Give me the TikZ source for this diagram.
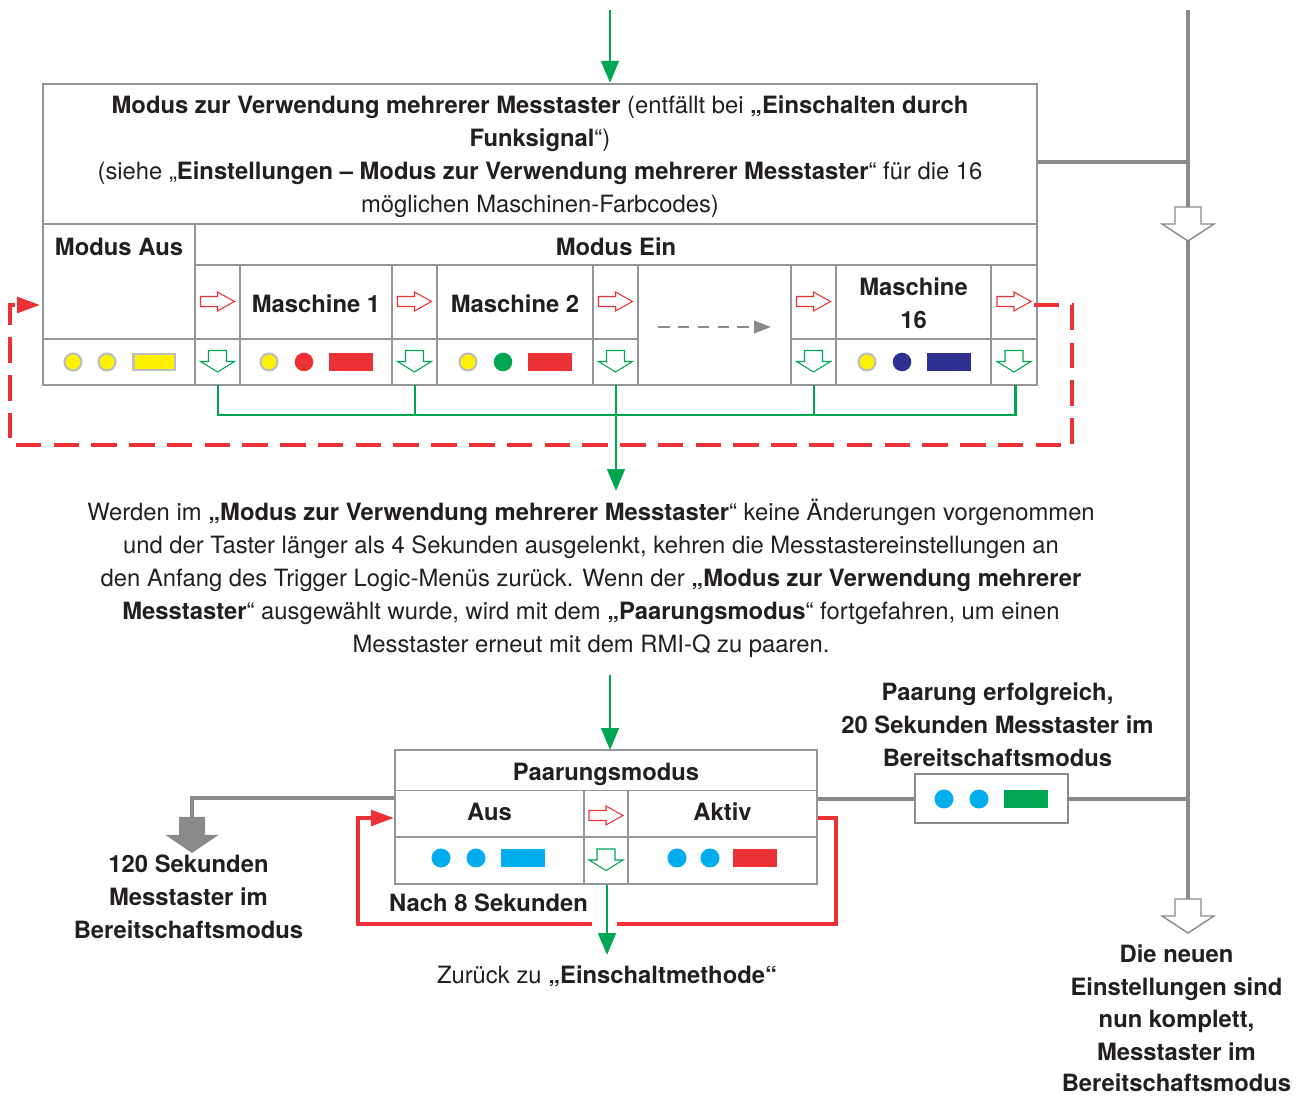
\documentclass[tikz,border=0pt]{standalone}
\usepackage{fontspec}
\setmainfont{TeX Gyre Heros}
\usetikzlibrary{arrows.meta}

\definecolor{tred}{HTML}{ED3237}
\definecolor{tgreen}{HTML}{00A651}
\definecolor{tframe}{HTML}{939598}
\definecolor{ttrunk}{HTML}{8A8A8D}
\definecolor{tyellow}{HTML}{FFF200}
\definecolor{tblue}{HTML}{2E3192}
\definecolor{tcyan}{HTML}{00AEEF}
\definecolor{ttext}{HTML}{231F20}
\definecolor{tring}{HTML}{BCBEC0}

\tikzset{
  redright/.pic={\draw[tred, line width=0.6pt, fill=white]
     (-17,-5) -- (0,-5) -- (0,-9.5) -- (17,0) -- (0,9.5) -- (0,5) -- (-17,5) -- cycle;},
  greendown/.pic={\draw[tgreen, line width=0.6pt, fill=white]
     (-9,-11) -- (9,-11) -- (9,0) -- (17,0) -- (0,10.5) -- (-17,0) -- (-9,0) -- cycle;},
  graydown/.pic={\draw[ttrunk, line width=0.8pt, fill=white]
     (-13,-17) -- (13,-17) -- (13,0) -- (26,0) -- (0,17) -- (-26,0) -- (-13,0) -- cycle;},
}

\begin{document}
\begin{tikzpicture}[x=0.02cm, y=-0.02cm,
  txt/.style={inner sep=0pt, anchor=base, text=ttext, yshift=-1.1pt,
              font=\fontsize{13.55pt}{18.7pt}\selectfont},
  btxt/.style={txt, font=\fontsize{13.55pt}{18.7pt}\selectfont\bfseries},
  boxframe/.style={draw=tframe, line width=1.4pt, inner sep=0pt, fill=none},
  cellline/.style={draw=tframe, line width=0.85pt},
  trunkline/.style={draw=ttrunk, line width=2.3pt},
  grayline/.style={draw=ttrunk, line width=2pt},
  gflow/.style={draw=tgreen, line width=1.7pt},
  gtip/.style={-{Triangle[length=12.5pt,width=10pt]}},
  rflow/.style={draw=tred, line width=1.8pt},
  rtip/.style={-{Triangle[length=13pt,width=9pt]}},
  rdash/.style={draw=tred, line width=2.2pt, dash pattern=on 14.5pt off 7pt},
  ledring/.style={fill=tyellow, draw=tring, line width=1.2pt},
]
\useasboundingbox (0,0) rectangle (1306,1097);

% ---------------- upper table: multi-probe mode ----------------
\node[boxframe, minimum width=19.88cm, minimum height=6.02cm] (topbox) at (540,234.5) {};
\draw[cellline] (43,224) -- (1037,224);
\draw[cellline] (195,265) -- (1037,265);
\draw[cellline] (43,339) -- (638,339);
\draw[cellline] (791,339) -- (1037,339);
\draw[cellline] (195,224) -- (195,385);
\foreach \cx in {240,392,437,593,638,791,836,991}
  \draw[cellline] (\cx,265) -- (\cx,385);

\node[btxt] (t1) at (540,112) {Modus zur Verwendung mehrerer Messtaster \mdseries(entfällt bei \bfseries„Einschalten durch};
\node[btxt] (t2) at (540,145) {Funksignal\mdseries“)};
\node[txt] (t3) at (540,178) {(siehe „\textbf{Einstellungen – Modus zur Verwendung mehrerer Messtaster}“ für die 16};
\node[txt] (t4) at (540,211) {möglichen Maschinen-Farbcodes)};

\node[btxt] (maus) at (119,253.5) {Modus Aus};
\node[btxt] (mein) at (616,253.5) {Modus Ein};
\node[btxt] (m1) at (316,311) {Maschine 1};
\node[btxt] (m2) at (515,311) {Maschine 2};
\node[btxt] (m16a) at (913.5,294) {Maschine};
\node[btxt] (m16b) at (913.5,327) {16};

% step arrows inside the table
\foreach \cx in {217.5,414.5,615.5,813.5,1014} {
  \pic at (\cx,301.5) {redright};
  \pic at (\cx,361.5) {greendown};
}

% further machines
\coordinate (skipA) at (658,327);
\coordinate (skipB) at (771,327);
\draw[draw=ttrunk, line width=1.4pt, dash pattern=on 6.6pt off 4.7pt,
      -{Triangle[length=9.6pt,width=7pt]}] (skipA) -- (skipB);

% LED patterns
\fill[ledring] (73,362) circle (8.5);
\fill[ledring] (107,362) circle (8.5);
\filldraw[fill=tyellow, draw=tring, line width=1.2pt] (133.5,354) rectangle (175,370);

\fill[ledring] (269,362) circle (8.5);
\fill[tred] (304,362) circle (9.3);
\fill[tred] (329,353) rectangle (373,371);

\fill[ledring] (468,362) circle (8.5);
\fill[tgreen] (503,362) circle (9.3);
\fill[tred] (528,353) rectangle (572,371);

\fill[ledring] (867,362) circle (8.5);
\fill[tblue] (902,362) circle (9.3);
\fill[tblue] (927,353) rectangle (971,371);

% green collector below the table
\coordinate (busW) at (218,415);
\coordinate (busE) at (1015,415);
\coordinate (busM) at (616,415);
\coordinate (midtxt) at (616,491);
\foreach \gx in {218,415,616,814,1015}
  \draw[gflow] (\gx,385) -- (\gx,415);
\draw[gflow, line cap=rect] (busW) -- (busE);
\draw[gflow, gtip] (busM) -- (midtxt);

% entry arrow
\coordinate (entry) at (610,10);
\draw[gflow, gtip] (entry) -- (entry |- topbox.north);

% red dashed return loop
\coordinate (rl1) at (1034,305);
\coordinate (rl2) at (1072,305);
\coordinate (rl3) at (1072,445);
\coordinate (rl4) at (10,445);
\coordinate (rl5) at (10,305);
\coordinate (rl6) at (40,305);
\draw[rdash] (rl1) -- (rl2) -- (rl3) -- (rl4) -- (rl5) -- (17,305);
\draw[rflow, rtip] (17,305) -- (rl6);

% ---------------- right trunk ----------------
\coordinate (trunkTop) at (1188,10);
\coordinate (trunkJ1) at (1188,162);
\coordinate (trunkJ2) at (1188,799);
\coordinate (trunkEnd) at (1188,905);
\draw[trunkline] (trunkTop) -- (trunkEnd);
\draw[trunkline] (topbox.east |- trunkJ1) -- (trunkJ1);
\pic at (1188,224) {graydown};
\pic at (1188,916) {graydown};

% ---------------- explanation ----------------
\node[txt] (p1) at (591,519) {Werden im \textbf{„Modus zur Verwendung mehrerer Messtaster}“ keine Änderungen vorgenommen};
\node[txt] (p2) at (591,552) {und der Taster länger als 4 Sekunden ausgelenkt, kehren die Messtastereinstellungen an};
\node[txt] (p3) at (591,585) {den Anfang des Trigger Logic-Menüs zurück. Wenn der \textbf{„Modus zur Verwendung mehrerer}};
\node[txt] (p4) at (591,618) {\textbf{Messtaster}“ ausgewählt wurde, wird mit dem \textbf{„Paarungsmodus}“ fortgefahren, um einen};
\node[txt] (p5) at (591,651) {Messtaster erneut mit dem RMI-Q zu paaren.};

% ---------------- pairing mode ----------------
\node[boxframe, minimum width=8.44cm, minimum height=2.68cm] (pairbox) at (606,817) {};
\draw[cellline] (395,790.5) -- (817,790.5);
\draw[cellline] (395,837) -- (817,837);
\draw[cellline] (584,790.5) -- (584,884);
\draw[cellline] (628,790.5) -- (628,884);

\node[btxt] (pm) at (606,779) {Paarungsmodus};
\node[btxt] (paus) at (489.5,818.5) {Aus};
\node[btxt] (pakt) at (722.5,818.5) {Aktiv};

\pic at (606,815.5) {redright};
\pic at (606,860) {greendown};

\fill[tcyan] (441,858) circle (9.5);
\fill[tcyan] (476,858) circle (9.5);
\fill[tcyan] (501,849) rectangle (545,867);
\fill[tcyan] (677,858) circle (9.5);
\fill[tcyan] (710,858) circle (9.5);
\fill[tred] (733,849) rectangle (777,867);

\coordinate (pairIn) at (610,675);
\draw[gflow, gtip] (pairIn) -- (610,750);

% 8 s return loop
\coordinate (pl1) at (836,818);
\coordinate (pl2) at (836,924);
\coordinate (pl3) at (617,924);
\coordinate (pl4) at (592,924);
\coordinate (pl5) at (358,924);
\coordinate (pl6) at (358,818);
\draw[rflow] (pairbox.east |- pl1) -- (pl1) -- (pl2) -- (pl3);
\draw[rflow, rtip] (pl4) -- (pl5) -- (pl6) -- (pairbox.west |- pl6);
\node[btxt] (nach) at (488.5,910) {Nach 8 Sekunden};

% exit down
\coordinate (pairOut) at (607,955);
\draw[gflow, gtip] (pairOut |- pairbox.south) -- (pairOut);
\node[txt] (back) at (607,982) {Zurück zu \textbf{„Einschaltmethode“}};

% 120 s timeout
\coordinate (toCorner) at (192,798);
\coordinate (toArrow) at (192,818);
\draw[grayline] (pairbox.west |- toCorner) -- (toCorner) -- (toArrow);
\fill[ttrunk] (179,817) -- (205,817) -- (205,835) -- (218.5,835) -- (192,853)
   -- (165.5,835) -- (179,835) -- cycle;
\node[btxt] (s1) at (188.5,871) {120 Sekunden};
\node[btxt] (s2) at (188.5,904) {Messtaster im};
\node[btxt] (s3) at (188.5,937) {Bereitschaftsmodus};

% success path
\node[draw=ttrunk, line width=1.6pt, inner sep=0pt, minimum width=3.06cm,
      minimum height=0.98cm] (okbox) at (991.5,798.5) {};
\draw[grayline] (pairbox.east |- trunkJ2) -- (okbox.west |- trunkJ2);
\draw[grayline] (okbox.east |- trunkJ2) -- (trunkJ2);
\fill[tcyan] (944,799) circle (9.5);
\fill[tcyan] (979,799) circle (9.5);
\fill[tgreen] (1004,790) rectangle (1048,808);
\node[btxt] (ok1) at (997.5,699) {Paarung erfolgreich,};
\node[btxt] (ok2) at (997.5,732) {20 Sekunden Messtaster im};
\node[btxt] (ok3) at (997.5,765) {Bereitschaftsmodus};

% final state
\node[btxt] (f1) at (1176.5,961) {Die neuen};
\node[btxt] (f2) at (1176.5,993.5) {Einstellungen sind};
\node[btxt] (f3) at (1176.5,1026) {nun komplett,};
\node[btxt] (f4) at (1176.5,1058.5) {Messtaster im};
\node[btxt] (f5) at (1176.5,1090) {Bereitschaftsmodus};
\end{tikzpicture}
\end{document}
